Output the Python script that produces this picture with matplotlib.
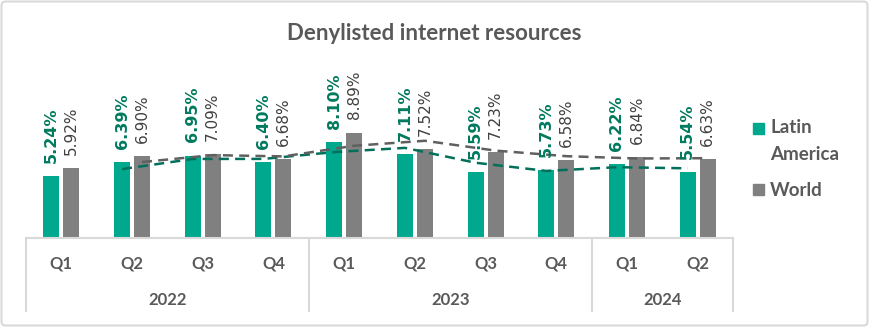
import matplotlib.pyplot as plt
import matplotlib.transforms as mtransforms
import pandas as pd
from matplotlib.patches import FancyBboxPatch, Rectangle

quarters = ["Q1", "Q2", "Q3", "Q4", "Q1", "Q2", "Q3", "Q4", "Q1", "Q2"]
years = ["2022", "2023", "2024"]
year_spans = [(0, 4), (4, 8), (8, 10)]
latam = [5.24, 6.39, 6.95, 6.40, 8.10, 7.11, 5.59, 5.73, 6.22, 5.54]
world = [5.92, 6.90, 7.09, 6.68, 8.89, 7.52, 7.23, 6.58, 6.84, 6.63]

TEAL = "#00A88E"
GRAY = "#808080"
LABEL_GREEN = "#007A5E"
TEXT_GRAY = "#595959"
LINE_GRAY = "#D9D9D9"
FONT = "Lato"

W, H = 869, 327
fig = plt.figure(figsize=(W / 100, H / 100), dpi=100)
ax = fig.add_axes([26 / W, 1 - 238 / H, (733 - 26) / W, 168 / H])

x = list(range(len(quarters)))
off, bw = 0.141, 0.226
x_la = [i - off for i in x]
x_w = [i + off for i in x]

ax.bar(x_la, latam, width=bw, color=TEAL, zorder=2)
ax.bar(x_w, world, width=bw, color=GRAY, zorder=2)

# 2-period moving average trendlines
ma_la = pd.Series(latam).rolling(2).mean()
ma_w = pd.Series(world).rolling(2).mean()
ax.plot(x_la[1:], ma_la[1:], color="#00705A", lw=1.8, ls=(0, (4, 2.5)), zorder=3)
ax.plot(x_w[1:], ma_w[1:], color="#606060", lw=1.8, ls=(0, (4, 2.5)), zorder=3)

for xi, v in zip(x_la, latam):
    ax.annotate(f"{v:.2f}%", (xi, v), xytext=(0, 9.5), textcoords="offset points",
                rotation=90, ha="center", va="bottom", fontsize=11.5,
                fontweight="bold", color=LABEL_GREEN, family="DejaVu Sans", zorder=4)
for xi, v in zip(x_w, world):
    ax.annotate(f"{v:.2f}%", (xi, v), xytext=(0, 9.5), textcoords="offset points",
                rotation=90, ha="center", va="bottom", fontsize=11,
                color="#404040", family="DejaVu Sans", zorder=4)

ax.set_xlim(-0.5, len(quarters) - 0.5)
ax.set_ylim(0, 168 / 11.85)
ax.axis("off")

# category axis: quarters, years, separators
trans = mtransforms.blended_transform_factory(ax.transData, ax.transAxes)
ax.plot([-0.5, len(quarters) - 0.5], [0, 0], color=LINE_GRAY, lw=1.5,
        transform=trans, clip_on=False)
for i, q in enumerate(quarters):
    ax.text(i, -0.149, q, transform=trans, ha="center", va="center",
            fontsize=12, fontweight="bold", color=TEXT_GRAY, family=FONT)
for yr, (a, b) in zip(years, year_spans):
    ax.text((a + b - 1) / 2, -0.369, yr, transform=trans, ha="center", va="center",
            fontsize=12, fontweight="bold", color=TEXT_GRAY, family=FONT)
for sep in [-0.5, 3.5, 7.5, 9.5]:
    ax.plot([sep, sep], [0, -0.435], color=LINE_GRAY, lw=1.5,
            transform=trans, clip_on=False)

fig.text(434 / W, 1 - 34 / H, "Denylisted internet resources", ha="center", va="center",
         fontsize=16, fontweight="bold", color=TEXT_GRAY, family=FONT)

# legend
for (y0, y1), col in [((123, 134), TEAL), ((184, 195), GRAY)]:
    fig.patches.append(Rectangle((753 / W, 1 - y1 / H), 11 / W, (y1 - y0) / H,
                                 transform=fig.transFigure, color=col))
for txt, yc in [("Latin", 128), ("America", 155), ("World", 190)]:
    fig.text(770 / W, 1 - yc / H, txt, ha="left", va="center", fontsize=13.5,
             fontweight="bold", color=TEXT_GRAY, family=FONT)

fig.patches.append(FancyBboxPatch((0.015, 0.015), W / 100 - 0.03, H / 100 - 0.03,
                                  boxstyle="round,pad=0,rounding_size=0.04",
                                  transform=fig.dpi_scale_trans, fill=False,
                                  ec=LINE_GRAY, lw=1.5))

fig.savefig("out.png", dpi=100, facecolor="white")
